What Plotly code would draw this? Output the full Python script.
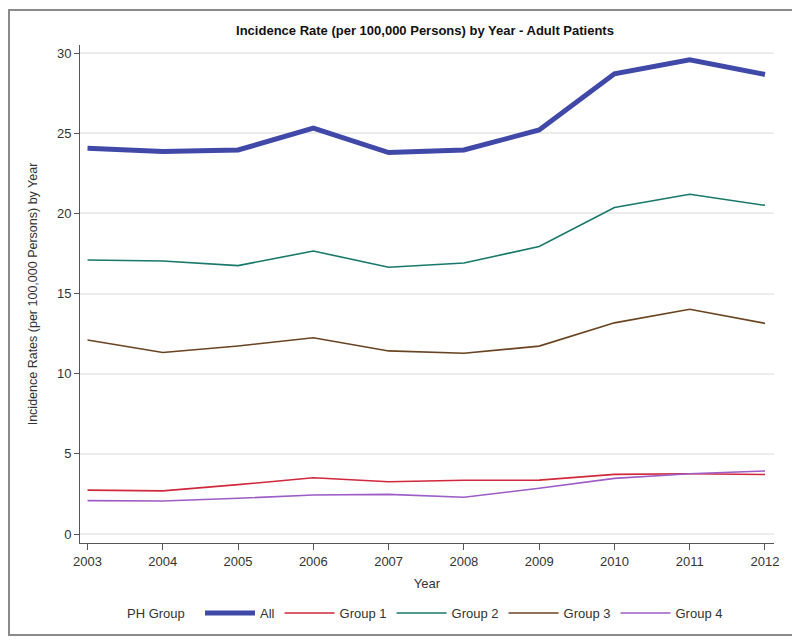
import plotly.graph_objects as go

years = [2003, 2004, 2005, 2006, 2007, 2008, 2009, 2010, 2011, 2012]
all_rate = [24.06, 23.85, 23.95, 25.31, 23.79, 23.95, 25.20, 28.70, 29.58, 28.66]
group1 = [2.74, 2.69, 3.08, 3.51, 3.26, 3.35, 3.36, 3.72, 3.76, 3.71]
group2 = [17.09, 17.03, 16.74, 17.65, 16.64, 16.90, 17.93, 20.36, 21.19, 20.50]
group3 = [12.10, 11.32, 11.73, 12.24, 11.42, 11.27, 11.72, 13.17, 14.02, 13.14]
group4 = [2.08, 2.06, 2.23, 2.43, 2.47, 2.29, 2.85, 3.47, 3.76, 3.93]

series = [
    ("All", all_rate, "#4048A8", 5),
    ("Group 1", group1, "#D0283C", 1.6),
    ("Group 2", group2, "#17786B", 1.6),
    ("Group 3", group3, "#6A4320", 1.6),
    ("Group 4", group4, "#9D5CC6", 1.6),
]

font_family = "Liberation Sans, Arial, sans-serif"
fig = go.Figure()
for name, vals, color, w in series:
    fig.add_trace(go.Scatter(x=years, y=vals, mode="lines", name=name,
                             line=dict(color=color, width=w)))

# page body has an 8px margin; work in figure coordinates = page - 8
OFF = 8
W, H = 792, 636
L, T = 80 - OFF, 45 - OFF
R, B = W - (774 - OFF), H - (543 - OFF)
pw, ph = W - L - R, H - T - B

def px_x(p):
    return (p - OFF - L) / pw

def px_y(p):
    return (H - B - (p - OFF)) / ph

fig.update_layout(
    width=W, height=H,
    margin=dict(l=L, r=R, t=T, b=B),
    paper_bgcolor="white", plot_bgcolor="white",
    font=dict(family=font_family, size=13, color="#333333"),
    title=dict(text="<b>Incidence Rate (per 100,000 Persons) by Year - Adult Patients</b>",
               x=px_x(425), xanchor="center", xref="paper",
               y=1 - (30 - OFF) / H, yanchor="middle",
               font=dict(size=13, color="#111111")),
    showlegend=True,
    legend=dict(orientation="h", x=px_x(200), xanchor="left",
                y=px_y(613), yanchor="middle",
                font=dict(size=13, color="#333333"),
                itemwidth=50, tracegroupgap=0),
    xaxis=dict(range=[2002.9, 2012.12], tickmode="array", tickvals=years,
               ticktext=[str(y) for y in years],
               showgrid=False, zeroline=False,
               showline=True, linecolor="#555555", linewidth=1,
               ticks="outside", ticklen=6, tickcolor="#555555",
               tickfont=dict(size=13, color="#333333"),
               title=dict(text="Year", standoff=11, font=dict(size=13, color="#333333"))),
    yaxis=dict(range=[-0.56, 30.5], tickmode="array", tickvals=[0, 5, 10, 15, 20, 25, 30],
               showgrid=True, gridcolor="#ececec", gridwidth=1.5, zeroline=False,
               showline=True, linecolor="#555555", linewidth=1,
               ticks="outside", ticklen=5, tickcolor="#555555",
               tickfont=dict(size=13, color="#333333"),
               title=dict(text="Incidence Rates (per 100,000 Persons) by Year",
                          standoff=16, font=dict(size=12.5, color="#333333"))),
    annotations=[dict(text="PH Group", xref="paper", yref="paper",
                      x=px_x(156), y=px_y(613), xanchor="center", yanchor="middle",
                      showarrow=False, font=dict(size=13, color="#333333"))],
)

fig.add_shape(type="rect", xref="paper", yref="paper",
              x0=px_x(9), x1=px_x(793), y0=px_y(635), y1=px_y(10),
              line=dict(color="#8a8a8a", width=2), fillcolor="rgba(0,0,0,0)",
              layer="below")

fig.write_html("out.html")
